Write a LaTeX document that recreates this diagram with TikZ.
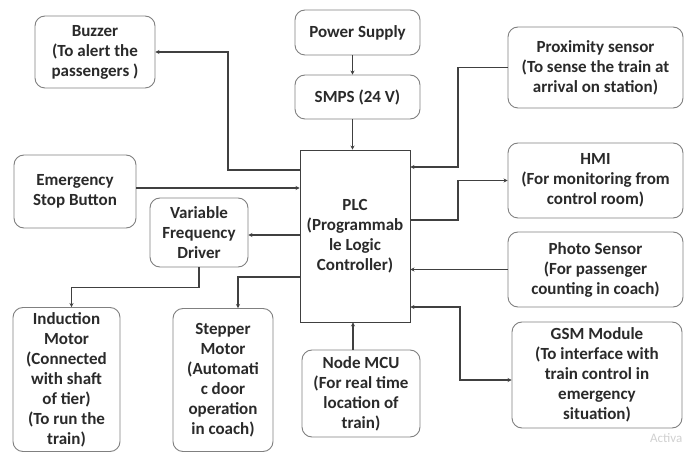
\documentclass[tikz,border=0pt]{standalone}
\usepackage{fontspec}
\setmainfont{Carlito}
\usetikzlibrary{arrows.meta}
\definecolor{boxline}{HTML}{808080}
\definecolor{wire}{HTML}{404040}
\definecolor{txt}{HTML}{2A2A2A}
\begin{document}
\begin{tikzpicture}[x=1pt,y=-1pt,
  blk/.style={draw=boxline, line width=0.9pt, rounded corners=10pt, fill=white,
    align=center, text=txt, font=\bfseries\fontsize{17}{20}\selectfont, inner sep=0pt},
  plcbox/.style={draw=wire, line width=0.9pt, fill=white,
    align=center, text=txt, font=\bfseries\fontsize{17}{20}\selectfont, inner sep=0pt},
  wirearrow/.style={draw=wire, line width=1.1pt, -{Stealth[length=4pt,width=4pt]}},
  wireboth/.style={draw=wire, line width=1.1pt, {Stealth[length=4pt,width=4pt]}-{Stealth[length=4pt,width=4pt]}}
]
\useasboundingbox[fill=white] (0,0) rectangle (686,454);

\node[blk, minimum width=120pt, minimum height=72pt] (buzzer) at (95,52) {Buzzer\\(To alert the\\passengers )};
\node[blk, minimum width=125pt, minimum height=45pt] (power) at (357.5,32.5) {Power Supply};
\node[blk, minimum width=125pt, minimum height=44pt] (smps) at (357.5,97) {SMPS (24 V)};
\node[plcbox, minimum width=110pt, minimum height=172pt] (plc) at (355,236) {PLC\\(Programmab\\le Logic\\Controller)};
\node[blk, minimum width=175pt, minimum height=81pt] (prox) at (595.5,67.5) {Proximity sensor\\(To sense the train at\\arrival on station)};
\node[blk, minimum width=175pt, minimum height=75pt] (hmi) at (595.5,180.5) {HMI\\(For monitoring from\\control room)};
\node[blk, minimum width=175pt, minimum height=75pt] (photo) at (595.5,269.5) {Photo Sensor\\(For passenger\\counting in coach)};
\node[blk, minimum width=170pt, minimum height=106pt] (gsm) at (597,375) {GSM Module\\(To interface with\\train control in\\emergency\\situation)};
\node[blk, minimum width=118pt, minimum height=87pt] (mcu) at (361,393.5) {Node MCU\\(For real time\\location of\\train)};
\node[blk, minimum width=122pt, minimum height=73pt] (emerg) at (75,191.5) {Emergency\\Stop Button};
\node[blk, minimum width=98pt, minimum height=69pt] (vfd) at (199,232.5) {Variable\\Frequency\\Driver};
\node[blk, minimum width=107pt, minimum height=144pt] (induct) at (66.5,379.5) {Induction\\Motor\\(Connected\\with shaft\\of tier)\\(To run the\\train)};
\node[blk, minimum width=100pt, minimum height=143pt] (stepper) at (223,380) {Stepper\\Motor\\(Automati\\c door\\operation\\in coach)};

\node[anchor=west, text=black!18, font=\fontsize{13}{15}\selectfont, inner sep=0pt] (wm) at (650,438) {Activa};

% connectors
\draw[wirearrow] ([xshift=-5pt]power.south) -- ([xshift=-5pt]smps.north);
\draw[wirearrow] ([xshift=-5pt]smps.south) -- ([xshift=-5pt]smps.south |- plc.north);
\draw[wirearrow] ([yshift=66pt]plc.west) -- (228,170) -- (228,52) -- (buzzer.east);
\draw[wirearrow] (emerg.east |- 0,188) -- (plc.west |- 0,188);
\draw[wirearrow] (plc.west |- 0,235) -- (vfd.east |- 0,235);
\draw[wirearrow] ([yshift=-41pt]plc.west) -| ([xshift=15pt]stepper.north);
\draw[wirearrow] (vfd.south) -- ++(0,20) -| ([xshift=5pt]induct.north);
\draw[wirearrow] (prox.west) -- (458,67.5) |- ([yshift=69pt]plc.east);
\draw[wirearrow] ([yshift=16pt]plc.east) -- (458,220) |- (hmi.west);
\draw[wirearrow] (photo.west) -- (plc.east |- photo.west);
\draw[wireboth] ([yshift=-71pt]plc.east) -- (460,307) |- ([yshift=-5pt]gsm.west);
\draw[wirearrow] ([xshift=-8pt]mcu.north) -- ([xshift=-8pt]mcu.north |- plc.south);
\end{tikzpicture}
\end{document}
